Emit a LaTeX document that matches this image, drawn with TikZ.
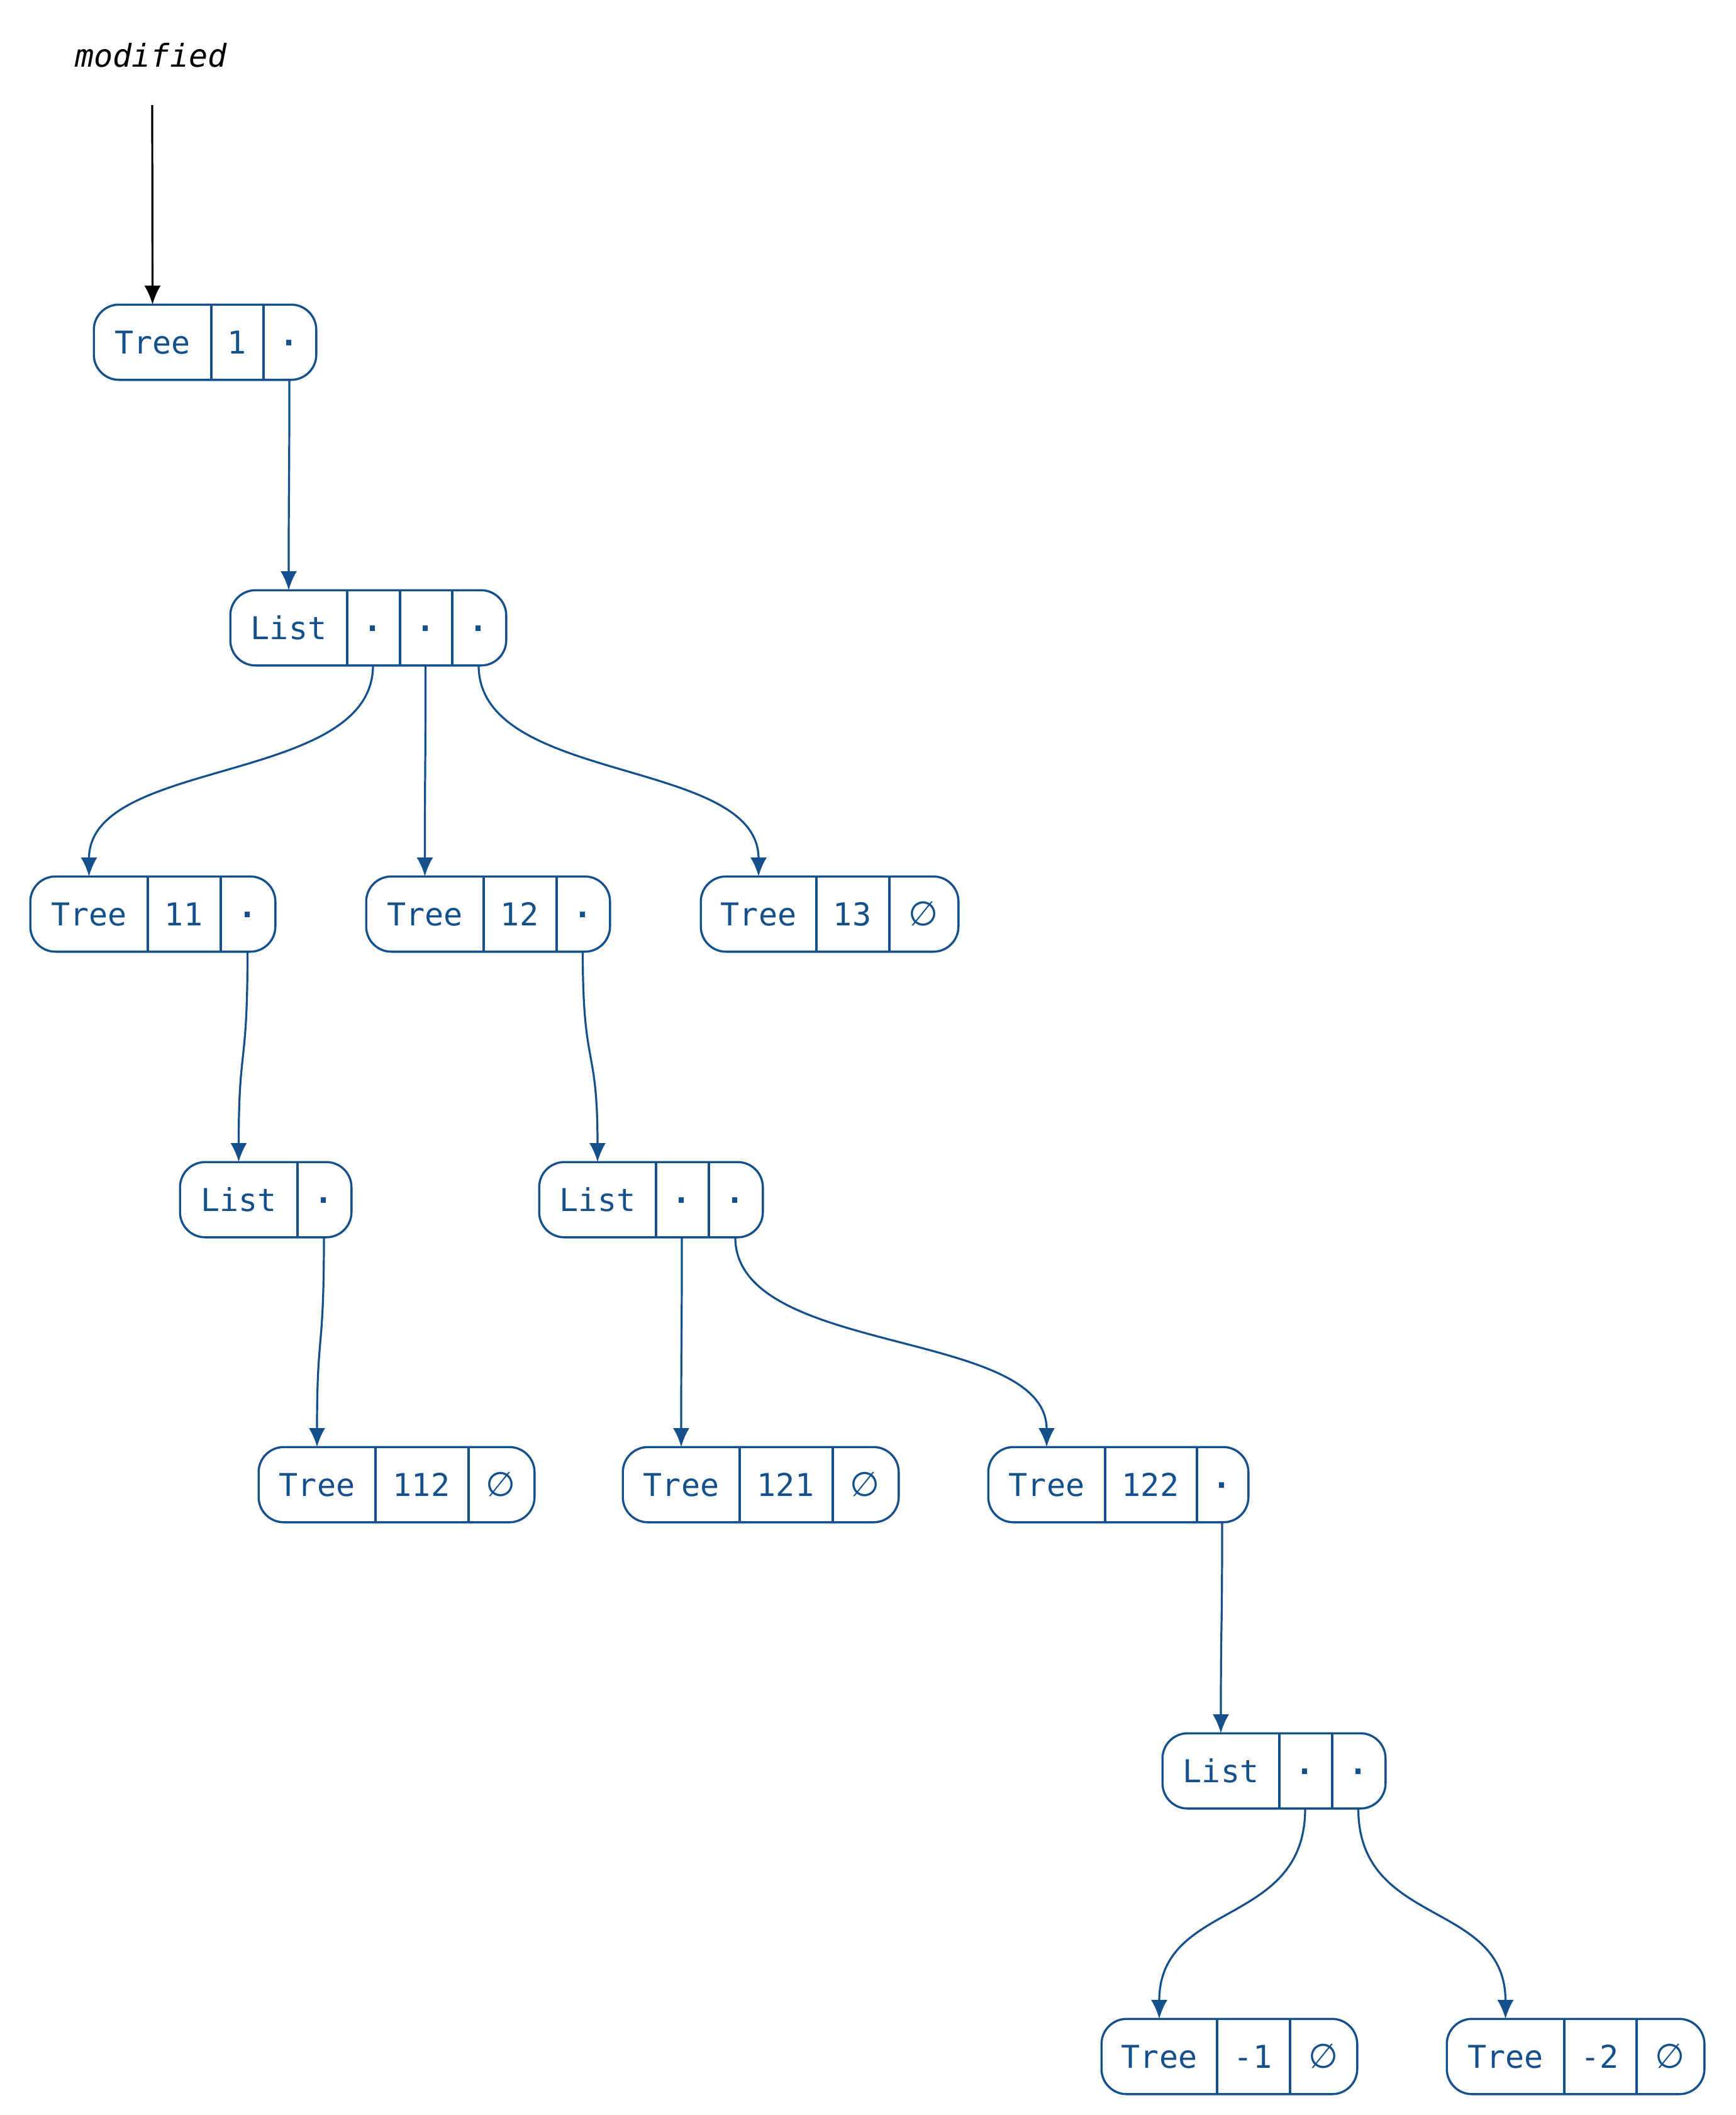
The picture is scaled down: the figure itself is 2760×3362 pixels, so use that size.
\documentclass[tikz,border=0pt]{standalone}
\usepackage{fontspec}
\setmonofont{DejaVu Sans Mono}
\newfontfamily\symf{DejaVu Sans}
\usetikzlibrary{arrows.meta}
\definecolor{nav}{RGB}{20,80,140}
\tikzset{
  cell/.style={inner sep=0pt, minimum height=29.5pt, text=nav, text height=9.1pt, text depth=0pt,
    font=\ttfamily\fontsize{12.5pt}{15pt}\selectfont},
  recbox/.style={draw=nav, line width=0.85pt, rounded corners=10pt},
  divider/.style={draw=nav, line width=0.85pt},
  link/.style={draw=nav, line width=0.8pt, -{Latex[length=7.5pt,width=6.5pt]}},
  ptr/.style={draw=black, line width=0.8pt, -{Latex[length=7.5pt,width=6.5pt]}},
  lbl/.style={inner sep=0pt, font=\ttfamily\itshape\fontsize{12.5pt}{15pt}\selectfont},
}
\newcommand\dotc{\textbf{·}}
\newcommand\nul{{\symf\fontsize{13.5pt}{15pt}\selectfont ∅}}
\newcommand\cellat[5]{\node[cell, minimum width={(#3-#2)*0.25pt}] (#1) at ({(#2+#3)/2},#4) {#5};}
\newcommand\recframe[2]{\draw[recbox] (#1.north west) rectangle (#2.south east);}
\newcommand\sep[1]{\draw[divider] (#1.north east) -- (#1.south east);}
\newcommand\linkto[2]{\draw[link] (#1.south) .. controls +(0,190) and +(0,-190) .. (#2.north);}
\begin{document}
\begin{tikzpicture}[x=0.25pt,y=-0.25pt]
\useasboundingbox (0,0) rectangle (2760,3362);
% label
\node[lbl] (mod) at (240,88) {modified};
\coordinate (ms) at (242,167);
% Tree 1
\cellat{t1a}{150}{335}{544}{Tree}
\cellat{t1b}{335}{418}{544}{1}
\cellat{t1c}{418}{502}{544}{\dotc}
\recframe{t1a}{t1c}\sep{t1a}\sep{t1b}
% List root
\cellat{l0a}{367}{551}{998}{List}
\cellat{l0b}{551}{635}{998}{\dotc}
\cellat{l0c}{635}{718}{998}{\dotc}
\cellat{l0d}{718}{804}{998}{\dotc}
\recframe{l0a}{l0d}\sep{l0a}\sep{l0b}\sep{l0c}
% Tree 11
\cellat{t11a}{49}{234}{1453}{Tree}
\cellat{t11b}{234}{350}{1453}{11}
\cellat{t11c}{350}{437}{1453}{\dotc}
\recframe{t11a}{t11c}\sep{t11a}\sep{t11b}
% Tree 12
\cellat{t12a}{583}{768}{1453}{Tree}
\cellat{t12b}{768}{884}{1453}{12}
\cellat{t12c}{884}{969}{1453}{\dotc}
\recframe{t12a}{t12c}\sep{t12a}\sep{t12b}
% Tree 13
\cellat{t13a}{1115}{1297}{1453}{Tree}
\cellat{t13b}{1297}{1413}{1453}{13}
\cellat{t13c}{1413}{1523}{1453}{\nul}
\recframe{t13a}{t13c}\sep{t13a}\sep{t13b}
% List 11
\cellat{l11a}{287}{472}{1907}{List}
\cellat{l11b}{472}{558}{1907}{\dotc}
\recframe{l11a}{l11b}\sep{l11a}
% List 12
\cellat{l12a}{858}{1042}{1907}{List}
\cellat{l12b}{1042}{1126}{1907}{\dotc}
\cellat{l12c}{1126}{1212}{1907}{\dotc}
\recframe{l12a}{l12c}\sep{l12a}\sep{l12b}
% Tree 112
\cellat{t112a}{412}{596}{2360}{Tree}
\cellat{t112b}{596}{744}{2360}{112}
\cellat{t112c}{744}{849}{2360}{\nul}
\recframe{t112a}{t112c}\sep{t112a}\sep{t112b}
% Tree 121
\cellat{t121a}{991}{1175}{2360}{Tree}
\cellat{t121b}{1175}{1323}{2360}{121}
\cellat{t121c}{1323}{1428}{2360}{\nul}
\recframe{t121a}{t121c}\sep{t121a}\sep{t121b}
% Tree 122
\cellat{t122a}{1572}{1756}{2360}{Tree}
\cellat{t122b}{1756}{1902}{2360}{122}
\cellat{t122c}{1902}{1984}{2360}{\dotc}
\recframe{t122a}{t122c}\sep{t122a}\sep{t122b}
% List 122
\cellat{l122a}{1849}{2033}{2815}{List}
\cellat{l122b}{2033}{2117}{2815}{\dotc}
\cellat{l122c}{2117}{2202}{2815}{\dotc}
\recframe{l122a}{l122c}\sep{l122a}\sep{l122b}
% Tree -1
\cellat{tm1a}{1752}{1934}{3269}{Tree}
\cellat{tm1b}{1934}{2050}{3269}{-1}
\cellat{tm1c}{2050}{2157}{3269}{\nul}
\recframe{tm1a}{tm1c}\sep{tm1a}\sep{tm1b}
% Tree -2
\cellat{tm2a}{2301}{2486}{3269}{Tree}
\cellat{tm2b}{2486}{2601}{3269}{-2}
\cellat{tm2c}{2601}{2709}{3269}{\nul}
\recframe{tm2a}{tm2c}\sep{tm2a}\sep{tm2b}
% connectors
\draw[ptr] (ms) -- (t1a.north);
\linkto{t1c}{l0a}
\linkto{l0b}{t11a}
\linkto{l0c}{t12a}
\linkto{l0d}{t13a}
\linkto{t11c}{l11a}
\linkto{t12c}{l12a}
\linkto{l11b}{t112a}
\linkto{l12b}{t121a}
\linkto{l12c}{t122a}
\linkto{t122c}{l122a}
\linkto{l122b}{tm1a}
\linkto{l122c}{tm2a}
\end{tikzpicture}
\end{document}
